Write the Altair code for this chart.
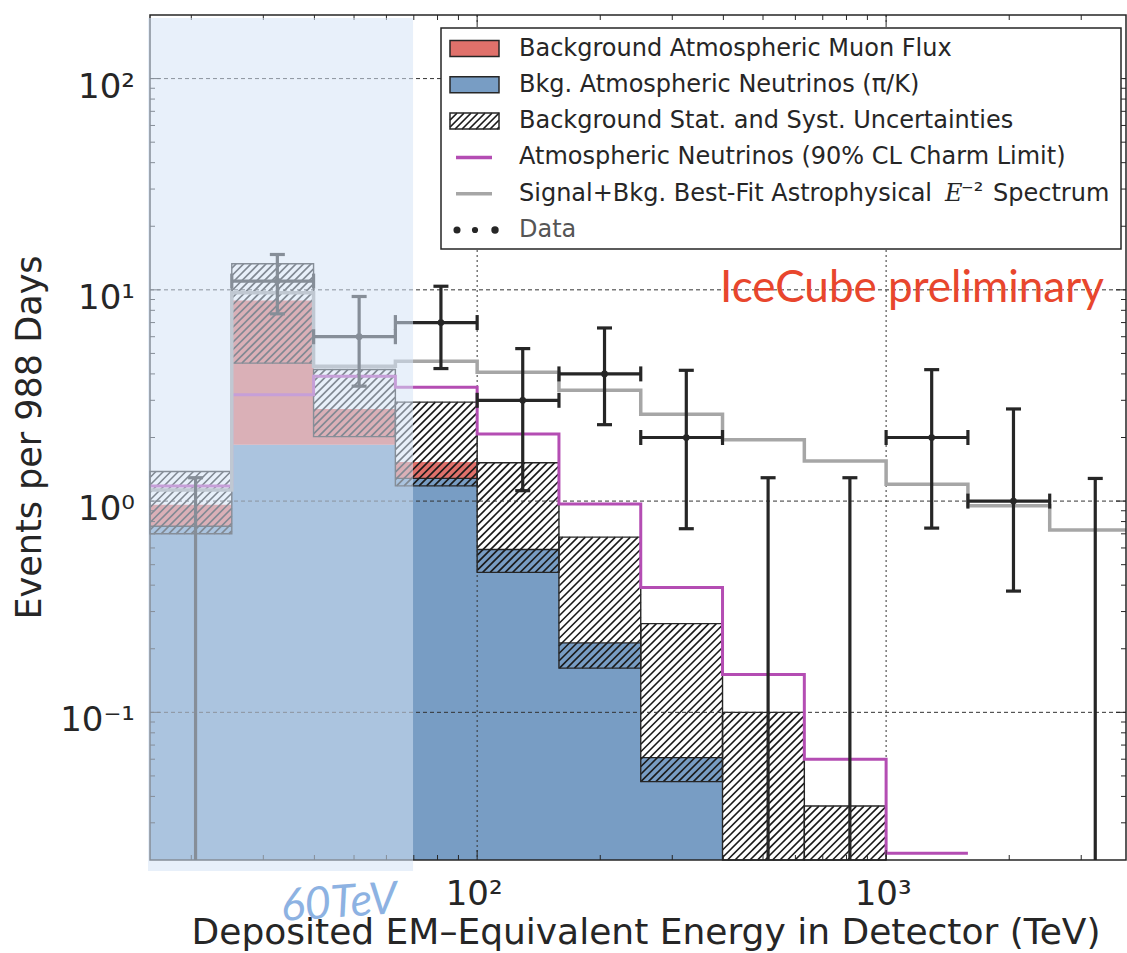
import altair as alt
import numpy as np
import pandas as pd

# ---------------------------------------------------------------------------
# Binned event counts vs. deposited EM-equivalent energy (TeV)
# ---------------------------------------------------------------------------
bin_edges = [15.85, 25.12, 39.81, 63.10, 100.0, 158.5, 251.2, 398.1,
             631.0, 1000.0, 1585.0, 2512.0, 3981.0]

# background expectation per bin (events per 988 days); None = off the plot
atm_nu_pik = [0.76, 1.85, 1.85, 1.28, 0.59, 0.213, 0.061, None, None, None, None, None]
atm_muon = [0.20, 7.05, 0.88, 0.25, 0.0, 0.0, 0.0, None, None, None, None, None]
bkg_band_lo = [0.70, 4.5, 2.02, 1.18, 0.46, 0.162, 0.047, None, None, None, None, None]
bkg_band_hi = [1.38, 13.3, 4.2, 2.94, 1.52, 0.675, 0.263, 0.100, 0.036, None, None, None]

charm_limit = [1.18, 3.19, 3.9, 3.46, 2.08, 0.97, 0.39, 0.151, 0.060, 0.0215, None, None]
signal_plus_bkg = [1.13, 9.7, 4.35, 4.59, 4.07, 3.35, 2.58, 1.95, 1.55, 1.20, 0.95, 0.73]

data_counts = [0, 11, 6, 7, 3, 4, 2, 0, 0, 2, 1, 0]
data_err_lo = [None, 7.7, 3.5, 4.24, 1.12, 2.30, 0.74, None, None, 0.745, 0.375, None]
data_err_hi = [1.29, 14.7, 9.3, 10.4, 5.27, 6.6, 4.16, 1.29, 1.29, 4.19, 2.73, 1.28]

x_major = [100, 1000]
x_major_labels = ["10²", "10³"]
y_major = [0.1, 1, 10, 100]
y_major_labels = ["10⁻¹", "10⁰", "10¹", "10²"]

legend_labels = [
    "Background Atmospheric Muon Flux",
    "Bkg. Atmospheric Neutrinos (π/K)",
    "Background Stat. and Syst. Uncertainties",
    "Atmospheric Neutrinos (90% CL Charm Limit)",
    "Signal+Bkg. Best-Fit Astrophysical",
    "Data",
]
threshold_tev = 69.7  # upper edge of the shaded low-energy region

# ---------------------------------------------------------------------------
# Geometry and style
# ---------------------------------------------------------------------------
W, H = 976, 845
XDOM = [15.85, 3860.0]
YDOM = [0.02, 200.0]
xs = alt.Scale(type="log", domain=XDOM, nice=False)
ys = alt.Scale(type="log", domain=YDOM, nice=False)

BLUE = "#789dc4"
RED = "#e0716b"
MAGENTA = "#b44db3"
GRAY = "#a6a6a6"
INK = "#262626"
FONT = "DejaVu Sans"

LX0, LX1 = np.log10(XDOM)
LY0, LY1 = np.log10(YDOM)
KX = W / (LX1 - LX0)
KY = H / (LY1 - LY0)


def px(e):
    return (np.log10(e) - LX0) * KX


def py(v):
    return (np.log10(v) - LY0) * KY


def ex(X):
    return float(10 ** (LX0 + X / KX))


def vy(Y):
    return float(10 ** (LY0 + Y / KY))


def X(f):
    return alt.X(f, type="quantitative", scale=xs, axis=None)


def Y(f):
    return alt.Y(f, type="quantitative", scale=ys, axis=None)


def X2(f):
    return alt.X2(f)


def Y2(f):
    return alt.Y2(f)


one = pd.DataFrame({"k": [0]})
layers = []
nbin = len(bin_edges) - 1

# ---------------------------------------------------------------------------
# Stacked background histogram (step-filled)
# ---------------------------------------------------------------------------
nu_bins = [i for i in range(nbin) if atm_nu_pik[i] is not None]
blue_pts = [(bin_edges[i], atm_nu_pik[i], YDOM[0]) for i in nu_bins]
blue_pts.append((bin_edges[nu_bins[-1] + 1], atm_nu_pik[nu_bins[-1]], YDOM[0]))
blue_df = pd.DataFrame(blue_pts, columns=["e", "top", "base"])

mu_bins = [i for i in nu_bins if atm_muon[i] and atm_muon[i] > 0]
red_pts = [(bin_edges[i], atm_nu_pik[i] + atm_muon[i], atm_nu_pik[i]) for i in mu_bins]
red_pts.append((bin_edges[mu_bins[-1] + 1],
                atm_nu_pik[mu_bins[-1]] + atm_muon[mu_bins[-1]], atm_nu_pik[mu_bins[-1]]))
red_df = pd.DataFrame(red_pts, columns=["e", "top", "base"])

layers.append(alt.Chart(blue_df).mark_area(color=BLUE, interpolate="step-after", opacity=1).encode(
    x=X("e"), y=Y("top"), y2=Y2("base")))
layers.append(alt.Chart(red_df).mark_area(color=RED, interpolate="step-after", opacity=1).encode(
    x=X("e"), y=Y("top"), y2=Y2("base")))

band_rows, edge_rows = [], []
for i in range(nbin):
    lo, hi = bin_edges[i], bin_edges[i + 1]
    if bkg_band_hi[i] is not None:
        blo = bkg_band_lo[i] if bkg_band_lo[i] is not None else YDOM[0]
        band_rows.append(dict(x=lo, x2=hi, y=blo, y2=bkg_band_hi[i]))
        nu = atm_nu_pik[i]
        if nu is not None and blo <= nu <= bkg_band_hi[i]:
            edge_rows.append(dict(x=lo, x2=hi, y=nu))
band_df = pd.DataFrame(band_rows)

layers.append(alt.Chart(pd.DataFrame(edge_rows)).mark_rule(color=INK, strokeWidth=1.3).encode(
    x=X("x"), x2=X2("x2"), y=Y("y")))

# hatching of the uncertainty band: 45-degree strokes on a common lattice
HSTEP = 7.5
hatch = []
for r in band_rows:
    X0, X1 = px(r["x"]), px(r["x2"])
    Y0, Y1 = py(r["y"]), py(r["y2"])
    c = np.floor((X0 - Y1) / HSTEP) * HSTEP
    while c <= X1 - Y0:
        xa, xb = max(X0, Y0 + c), min(X1, Y1 + c)
        if xb - xa > 0.4:
            hatch.append(dict(x=ex(xa), y=vy(xa - c), x2=ex(xb), y2=vy(xb - c)))
        c += HSTEP
hatch_df = pd.DataFrame(hatch)
layers.append(alt.Chart(hatch_df).mark_rule(color="#1a1a1a", strokeWidth=1.6).encode(
    x=X("x"), y=Y("y"), x2=X2("x2"), y2=Y2("y2")))
layers.append(alt.Chart(band_df).mark_rect(fillOpacity=0, stroke=INK, strokeWidth=1.4).encode(
    x=X("x"), x2=X2("x2"), y=Y("y"), y2=Y2("y2")))

# ---------------------------------------------------------------------------
# Grid
# ---------------------------------------------------------------------------
layers.append(alt.Chart(pd.DataFrame({"v": y_major})).mark_rule(
    color="#333333", strokeWidth=1, strokeDash=[4, 3]).encode(
    y=Y("v"), x=alt.value(0), x2=alt.value(W)))
layers.append(alt.Chart(pd.DataFrame({"e": x_major})).mark_rule(
    color="#333333", strokeWidth=1, strokeDash=[2, 3]).encode(
    x=X("e"), y=alt.value(0), y2=alt.value(H)))

# ---------------------------------------------------------------------------
# Step curves
# ---------------------------------------------------------------------------
def step_frame(vals):
    pts = [(bin_edges[i], v) for i, v in enumerate(vals) if v is not None]
    last = max(i for i, v in enumerate(vals) if v is not None)
    pts.append((bin_edges[last + 1], vals[last]))
    return pd.DataFrame(pts, columns=["e", "v"])


layers.append(alt.Chart(step_frame(charm_limit)).mark_line(
    color=MAGENTA, strokeWidth=3, interpolate="step-after", clip=True).encode(
    x=X("e"), y=Y("v")))
layers.append(alt.Chart(step_frame(signal_plus_bkg)).mark_line(
    color=GRAY, strokeWidth=3.5, interpolate="step-after", clip=True).encode(
    x=X("e"), y=Y("v")))

# ---------------------------------------------------------------------------
# Observed events with error bars
# ---------------------------------------------------------------------------
drows = []
for i in range(nbin):
    lo, hi = bin_edges[i], bin_edges[i + 1]
    n = data_counts[i]
    drows.append(dict(
        xc=(lo + hi) / 2, xlo=lo, xhi=hi, n=n if n > 0 else None,
        elo=data_err_lo[i] if data_err_lo[i] is not None else YDOM[0],
        has_lo=data_err_lo[i] is not None, ehi=data_err_hi[i]))
ddf = pd.DataFrame(drows)
pos = ddf[ddf["n"].notna()]
EW = 3.2
CAP = 7.5
layers.append(alt.Chart(ddf).mark_rule(color=INK, strokeWidth=EW).encode(
    x=X("xc"), y=Y("elo"), y2=Y2("ehi")))
layers.append(alt.Chart(ddf).mark_rule(color=INK, strokeWidth=EW, xOffset=-CAP, x2Offset=CAP).encode(
    x=X("xc"), x2=X2("xc"), y=Y("ehi")))
layers.append(alt.Chart(ddf[ddf["has_lo"]]).mark_rule(color=INK, strokeWidth=EW, xOffset=-CAP, x2Offset=CAP).encode(
    x=X("xc"), x2=X2("xc"), y=Y("elo")))
layers.append(alt.Chart(pos).mark_rule(color=INK, strokeWidth=EW).encode(
    x=X("xlo"), x2=X2("xhi"), y=Y("n")))
for col in ["xlo", "xhi"]:
    layers.append(alt.Chart(pos).mark_rule(color=INK, strokeWidth=EW, yOffset=-CAP, y2Offset=CAP).encode(
        x=X(col), y=Y("n"), y2=Y2("n")))
layers.append(alt.Chart(pos).mark_circle(color=INK, size=45, opacity=1).encode(
    x=X("xc"), y=Y("n")))

# ---------------------------------------------------------------------------
# Frame and inward ticks on all four sides
# ---------------------------------------------------------------------------
layers.append(alt.Chart(one).mark_rect(fillOpacity=0, stroke=INK, strokeWidth=1.5).encode(
    x=alt.value(0), x2=alt.value(W), y=alt.value(0), y2=alt.value(H)))

x_minor = [m * d for d in (10, 100, 1000) for m in range(2, 10) if XDOM[0] < m * d < XDOM[1]]
y_minor = [m * d for d in (0.01, 0.1, 1, 10) for m in range(2, 10) if YDOM[0] < m * d < YDOM[1]]
for vals, L in ((x_minor, 5), (x_major, 10)):
    d = pd.DataFrame({"e": vals})
    layers.append(alt.Chart(d).mark_rule(color=INK, strokeWidth=1).encode(
        x=X("e"), y=alt.value(H), y2=alt.value(H - L)))
    layers.append(alt.Chart(d).mark_rule(color=INK, strokeWidth=1).encode(
        x=X("e"), y=alt.value(0), y2=alt.value(L)))
for vals, L in ((y_minor, 5), (y_major, 10)):
    d = pd.DataFrame({"v": vals})
    layers.append(alt.Chart(d).mark_rule(color=INK, strokeWidth=1).encode(
        y=Y("v"), x=alt.value(0), x2=alt.value(L)))
    layers.append(alt.Chart(d).mark_rule(color=INK, strokeWidth=1).encode(
        y=Y("v"), x=alt.value(W), x2=alt.value(W - L)))

# ---------------------------------------------------------------------------
# Translucent highlight over the low-energy region
# ---------------------------------------------------------------------------
hl = pd.DataFrame({"a": [XDOM[0]], "b": [threshold_tev]})
layers.append(alt.Chart(hl).mark_rect(color="#d6e4f5", opacity=0.55, xOffset=-2).encode(
    x=X("a"), x2=X2("b"), y=alt.value(3), y2=alt.value(H + 11)))

# ---------------------------------------------------------------------------
# Tick labels, axis titles, annotations
# ---------------------------------------------------------------------------
layers.append(alt.Chart(pd.DataFrame({"e": x_major, "t": x_major_labels})).mark_text(
    font=FONT, fontSize=34, color=INK, baseline="alphabetic", align="center", dx=-3).encode(
    x=X("e"), y=alt.value(H + 45), text="t:N"))
layers.append(alt.Chart(pd.DataFrame({"v": y_major, "t": y_major_labels})).mark_text(
    font=FONT, fontSize=34, color=INK, baseline="alphabetic", align="right", dy=19).encode(
    y=Y("v"), x=alt.value(-15), text="t:N"))
layers.append(alt.Chart(one).mark_text(
    font=FONT, fontSize=36, color=INK, baseline="alphabetic", align="center",
    text="Deposited EM–Equivalent Energy in Detector (TeV)").encode(
    x=alt.value(W / 2 + 8), y=alt.value(H + 84)))
layers.append(alt.Chart(one).mark_text(
    font=FONT, fontSize=35, color=INK, baseline="alphabetic", align="center", angle=270,
    text="Events per 988 Days").encode(
    x=alt.value(-109), y=alt.value(H / 2)))
layers.append(alt.Chart(one).mark_text(
    font="Lato", fontSize=44, color="#e8462d", baseline="alphabetic", align="left",
    text="IceCube preliminary").encode(
    x=alt.value(570), y=alt.value(287)))
layers.append(alt.Chart(one).mark_text(
    font="Lato", fontSize=45, fontStyle="italic", color="#8db2e2", baseline="alphabetic",
    align="center", angle=356, text="60TeV").encode(
    x=alt.value(190), y=alt.value(902)))

# ---------------------------------------------------------------------------
# Legend
# ---------------------------------------------------------------------------
LX, LR, LT, LB = 291, 971, 13, 234
rows_y = [33.5 + 36.3 * i for i in range(6)]
TX = 369
LFS = 24
layers.append(alt.Chart(one).mark_rect(fill="white", stroke=INK, strokeWidth=1.5).encode(
    x=alt.value(LX), x2=alt.value(LR), y=alt.value(LT), y2=alt.value(LB)))
for yy, col in ((rows_y[0], RED), (rows_y[1], BLUE)):
    layers.append(alt.Chart(one).mark_rect(fill=col, stroke=INK, strokeWidth=1.5).encode(
        x=alt.value(300), x2=alt.value(349), y=alt.value(yy - 8), y2=alt.value(yy + 8)))
# hatched swatch
hy0, hy1 = rows_y[2] - 8, rows_y[2] + 8
sw = []
c = 300 - 16.0
while c < 349:
    xa, xb = max(300.0, c), min(349.0, c + 16)
    if xb - xa > 0.4:
        sw.append(dict(x=xa, y=hy1 - (xa - c), x2=xb, y2=hy1 - (xb - c)))
    c += 7.0
layers.append(alt.Chart(pd.DataFrame(sw)).mark_rule(color="#1c1c1c", strokeWidth=1.5).encode(
    x=alt.X("x:Q", scale=None), y=alt.Y("y:Q", scale=None),
    x2=alt.X2("x2"), y2=alt.Y2("y2")))
layers.append(alt.Chart(one).mark_rect(fillOpacity=0, stroke=INK, strokeWidth=1.5).encode(
    x=alt.value(300), x2=alt.value(349), y=alt.value(hy0), y2=alt.value(hy1)))
for yy, col in ((rows_y[3], MAGENTA), (rows_y[4], GRAY)):
    layers.append(alt.Chart(one).mark_rule(color=col, strokeWidth=3.5).encode(
        x=alt.value(306), x2=alt.value(342), y=alt.value(yy)))
for xx, s in ((307, 50), (325, 38), (345, 55)):
    layers.append(alt.Chart(one).mark_circle(color=INK, size=s, opacity=1).encode(
        x=alt.value(xx), y=alt.value(rows_y[5])))
for i, lab in enumerate(legend_labels):
    layers.append(alt.Chart(one).mark_text(
        font=FONT, fontSize=LFS, color="#555555" if lab == "Data" else INK,
        baseline="middle", align="left", text=lab).encode(
        x=alt.value(TX), y=alt.value(rows_y[i])))
layers.append(alt.Chart(one).mark_text(
    font="DejaVu Serif", fontSize=LFS, fontStyle="italic", color=INK,
    baseline="middle", align="left", text="E").encode(
    x=alt.value(795), y=alt.value(rows_y[4])))
layers.append(alt.Chart(one).mark_text(
    font=FONT, fontSize=LFS, color=INK, baseline="middle", align="left", text="⁻²").encode(
    x=alt.value(811), y=alt.value(rows_y[4] - 2)))
layers.append(alt.Chart(one).mark_text(
    font=FONT, fontSize=LFS, color=INK, baseline="middle", align="left", text="Spectrum").encode(
    x=alt.value(843), y=alt.value(rows_y[4])))

chart = alt.layer(*layers).properties(
    width=W, height=H,
    autosize=alt.AutoSizeParams(type="none"),
    padding={"left": 150, "top": 15, "right": 1, "bottom": 93},
    background="white",
).configure_view(stroke=None)

chart.save("out.html", embed_options={"renderer": "svg", "actions": False})
